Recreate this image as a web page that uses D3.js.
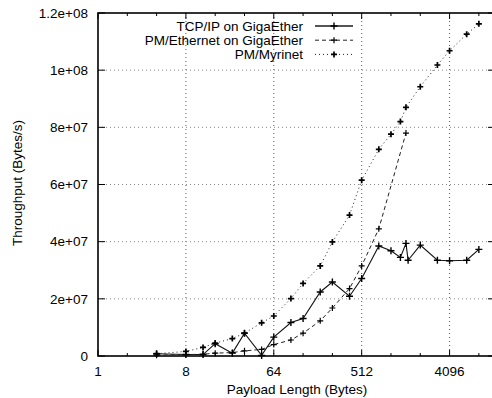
<!DOCTYPE html>
<html>
<head>
<meta charset="utf-8">
<script src="https://cdn.jsdelivr.net/npm/d3@7"></script>
<style>
  body { margin: 0; background: #fff; }
  svg { display: block; font-family: "Liberation Sans", Arial, sans-serif; }
  .grid { stroke: #555; stroke-width: 1; stroke-dasharray: 1,3; }
  .label { font-size: 13.5px; fill: #000; }
</style>
</head>
<body>
<svg></svg>
<script>
const WIDTH = 492;
const HEIGHT = 398;

// x values are payload sizes in bytes, y values are bytes/s
const tcpSizes = [4, 8, 12, 16, 24, 32, 48, 64, 96, 128, 192, 256, 384, 512, 768, 1024, 1280, 1460, 1536, 2048, 3072, 4096, 6144, 8192];
const tcpValues = [0.8e6, 0.5e6, 0.5e6, 4.3e6, 1.0e6, 8.0e6, 0.2e6, 6.6e6, 11.7e6, 13.1e6, 22.4e6, 25.9e6, 20.9e6, 27.1e6, 38.5e6, 36.8e6, 34.5e6, 39.4e6, 33.5e6, 38.8e6, 33.5e6, 33.3e6, 33.5e6, 37.3e6];

const ethSizes = [4, 8, 12, 16, 24, 32, 48, 64, 96, 128, 192, 256, 384, 512, 768, 1460];
const ethValues = [0.3e6, 0.5e6, 0.6e6, 1.0e6, 1.2e6, 1.8e6, 2.3e6, 4.0e6, 5.6e6, 8.0e6, 12.3e6, 16.8e6, 23.6e6, 31.5e6, 44.5e6, 78.0e6];

const myriSizes = [4, 8, 12, 16, 24, 32, 48, 64, 96, 128, 192, 256, 384, 512, 768, 1024, 1280, 1460, 2048, 3072, 4096, 6144, 8192];
const myriValues = [0.8e6, 1.6e6, 3.0e6, 4.5e6, 6.1e6, 8.0e6, 11.6e6, 14.0e6, 20.1e6, 25.4e6, 31.5e6, 39.9e6, 49.3e6, 61.5e6, 72.3e6, 77.6e6, 82.0e6, 87.0e6, 94.2e6, 101.8e6, 106.8e6, 112.6e6, 116.2e6];

const seriesNames = ["TCP/IP on GigaEther", "PM/Ethernet on GigaEther", "PM/Myrinet"];

const xTickValues = [1, 2, 4, 8, 16, 32, 64, 128, 256, 512, 1024, 2048, 4096, 8192];
const xTickLabels = ["1", "8", "64", "512", "4096"];
const yTickValues = [0, 2e7, 4e7, 6e7, 8e7, 1e8, 1.2e8];
const yTickLabels = ["0", "2e+07", "4e+07", "6e+07", "8e+07", "1e+08", "1.2e+08"];

const X_MAX = 12000;
const LEFT = 98, RIGHT = 495, TOP = 13, BOTTOM = 356;

const x = d3.scaleLog().base(2).domain([1, X_MAX]).range([LEFT, RIGHT]);
const y = d3.scaleLinear().domain([0, 1.2e8]).range([BOTTOM, TOP]);

const svg = d3.select("svg").attr("width", WIDTH).attr("height", HEIGHT);
svg.append("rect").attr("width", WIDTH).attr("height", HEIGHT).attr("fill", "#fff");

// grid
const grid = svg.append("g");
grid.selectAll(".vg")
  .data(xTickLabels.slice(1).map(Number))
  .enter().append("line")
  .attr("class", "grid")
  .attr("x1", (d) => x(d)).attr("x2", (d) => x(d))
  .attr("y1", TOP).attr("y2", BOTTOM);
grid.selectAll(".hg")
  .data(yTickValues.slice(1, -1))
  .enter().append("line")
  .attr("class", "grid")
  .attr("stroke", "#888")
  .style("stroke", "#888")
  .attr("x1", LEFT).attr("x2", RIGHT)
  .attr("y1", (d) => y(d)).attr("y2", (d) => y(d));

// ticks on all four sides, pointing inward
const labelled = new Set(xTickLabels.map(Number));
const ticks = svg.append("g").attr("stroke", "#000").attr("stroke-width", 1);
xTickValues.forEach((v) => {
  const len = labelled.has(v) ? 6 : 3;
  ticks.append("line").attr("x1", x(v)).attr("x2", x(v)).attr("y1", BOTTOM).attr("y2", BOTTOM - len);
  ticks.append("line").attr("x1", x(v)).attr("x2", x(v)).attr("y1", TOP).attr("y2", TOP + len);
});
yTickValues.forEach((v) => {
  ticks.append("line").attr("x1", LEFT).attr("x2", LEFT + 7).attr("y1", y(v)).attr("y2", y(v));
  ticks.append("line").attr("x1", RIGHT).attr("x2", RIGHT - 7).attr("y1", y(v)).attr("y2", y(v));
});

svg.append("rect")
  .attr("x", LEFT).attr("y", TOP)
  .attr("width", RIGHT - LEFT).attr("height", BOTTOM - TOP)
  .attr("fill", "none").attr("stroke", "#000").attr("stroke-width", 1.6);

// tick labels
svg.selectAll(".xl")
  .data(xTickLabels)
  .enter().append("text")
  .attr("class", "label")
  .attr("x", (d) => x(+d)).attr("y", 376)
  .attr("text-anchor", "middle")
  .text((d) => d);
svg.selectAll(".yl")
  .data(yTickValues)
  .enter().append("text")
  .attr("class", "label")
  .attr("x", 88).attr("y", (d) => y(d) + 4.8)
  .attr("text-anchor", "end")
  .text((d, i) => yTickLabels[i]);

svg.append("text").attr("class", "label")
  .attr("x", 297).attr("y", 394).attr("text-anchor", "middle")
  .text("Payload Length (Bytes)");
svg.append("text").attr("class", "label")
  .attr("transform", "translate(21.5,183) rotate(-90)")
  .attr("text-anchor", "middle")
  .text("Throughput (Bytes/s)");

// series
const line = d3.line().x((d) => x(d[0])).y((d) => y(d[1]));
const series = [
  { sizes: tcpSizes, values: tcpValues, dash: null, width: 1.1, mark: 7, markWidth: 1.4, color: "#111" },
  { sizes: ethSizes, values: ethValues, dash: "4,3", width: 1, mark: 6, markWidth: 1.2, color: "#222" },
  { sizes: myriSizes, values: myriValues, dash: "1,3", width: 1, mark: 6, markWidth: 1.7, color: "#222" }
];

function plus(g, cx, cy, s, w, color) {
  const h = s / 2;
  g.append("path")
    .attr("d", `M${cx - h},${cy}H${cx + h}M${cx},${cy - h}V${cy + h}`)
    .attr("stroke", color).attr("stroke-width", w).attr("fill", "none");
}

const plot = svg.append("g");
series.forEach((s) => {
  const pts = s.sizes.map((d, i) => [d, s.values[i]]);
  plot.append("path")
    .attr("d", line(pts))
    .attr("fill", "none")
    .attr("stroke", s.color)
    .attr("stroke-width", s.width)
    .attr("stroke-dasharray", s.dash);
  pts.forEach((p) => plus(plot, x(p[0]), y(p[1]), s.mark, s.markWidth, "#000"));
});

// legend
const legend = svg.append("g");
seriesNames.forEach((name, i) => {
  const ly = 26 + i * 14.2;
  const s = series[i];
  legend.append("text").attr("class", "label")
    .attr("x", 303).attr("y", ly + 4.8).attr("text-anchor", "end")
    .text(name);
  legend.append("line")
    .attr("x1", 315).attr("x2", 353).attr("y1", ly).attr("y2", ly)
    .attr("stroke", i === 0 ? "#555" : s.color)
    .attr("stroke-width", i === 0 ? 2 : s.width)
    .attr("stroke-dasharray", s.dash);
  plus(legend, 334, ly, s.mark, s.markWidth, "#000");
});
</script>
</body>
</html>
